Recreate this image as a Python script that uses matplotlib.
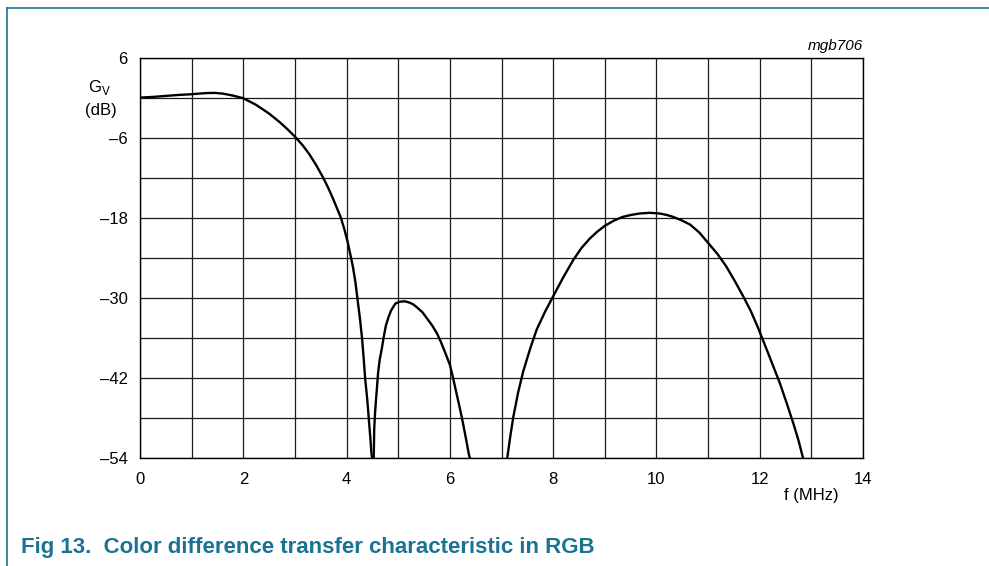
import matplotlib
matplotlib.use("Agg")
import matplotlib.pyplot as plt
from matplotlib.lines import Line2D
from matplotlib.ticker import MultipleLocator, FixedLocator

plt.rcParams["font.family"] = ["Liberation Sans", "DejaVu Sans"]

# main lobe (MHz, dB)
lobe1_f = [0.0, 0.25, 0.5, 0.75, 1.0, 1.15, 1.3, 1.45, 1.6, 1.8, 2.0, 2.25, 2.5, 2.7,
           2.85, 3.0, 3.15, 3.28, 3.41, 3.54, 3.64, 3.73, 3.81, 3.89, 3.96, 4.02, 4.07,
           4.12, 4.17, 4.21, 4.26, 4.30, 4.33, 4.36, 4.40, 4.43, 4.46, 4.48, 4.495]
lobe1_db = [0.0, 0.1, 0.25, 0.4, 0.5, 0.6, 0.68, 0.7, 0.6, 0.3, -0.1, -1.1, -2.4, -3.65,
            -4.7, -5.85, -7.15, -8.5, -10.1, -11.9, -13.45, -15.0, -16.5, -18.0, -19.8,
            -21.6, -23.4, -25.25, -27.6, -30.1, -33.2, -36.1, -39.0, -42.1, -45.2, -48.1,
            -51.0, -53.2, -54.0]
# second lobe
lobe2_f = [4.525, 4.535, 4.55, 4.57, 4.61, 4.64, 4.68, 4.72, 4.76, 4.81, 4.86, 4.91,
           4.95, 5.04, 5.13, 5.2, 5.28, 5.37, 5.47, 5.56, 5.66, 5.75, 5.83, 5.92, 6.0,
           6.06, 6.12, 6.19, 6.25, 6.31, 6.37, 6.39]
lobe2_db = [-54.0, -49.6, -47.3, -45.2, -41.2, -39.3, -37.65, -35.8, -34.15, -32.9,
            -31.9, -31.25, -30.8, -30.55, -30.5, -30.65, -30.9, -31.45, -32.15, -33.1,
            -34.15, -35.3, -36.65, -38.4, -40.0, -41.9, -44.0, -46.4, -48.6, -51.0,
            -53.5, -54.0]
# third lobe
lobe3_f = [7.11, 7.17, 7.23, 7.32, 7.42, 7.55, 7.68, 7.84, 8.0, 8.2, 8.39, 8.55, 8.71,
           8.85, 9.0, 9.18, 9.35, 9.52, 9.68, 9.87, 10.06, 10.19, 10.32, 10.48, 10.65,
           10.83, 11.0, 11.18, 11.35, 11.52, 11.68, 11.83, 11.97, 12.18, 12.39, 12.52,
           12.65, 12.75, 12.84]
lobe3_db = [-54.0, -50.7, -47.75, -44.2, -41.0, -37.7, -34.75, -32.1, -29.75, -26.85,
            -24.3, -22.5, -21.1, -20.1, -19.2, -18.4, -17.85, -17.55, -17.35, -17.25,
            -17.35, -17.55, -17.85, -18.35, -19.0, -20.2, -21.75, -23.4, -25.25, -27.5,
            -29.75, -32.0, -34.5, -38.6, -42.75, -45.7, -48.75, -51.3, -54.0]

x_ticks = [0, 2, 4, 6, 8, 10, 12, 14]
y_ticks = [-54, -42, -30, -18, -6, 6]

TEAL = "#1b7393"

fig = plt.figure(figsize=(9.89, 5.66), dpi=100)
ax = fig.add_axes([0.1416, 0.1903, 0.7310, 0.7081])

for f, db in [(lobe1_f, lobe1_db), (lobe2_f, lobe2_db), (lobe3_f, lobe3_db)]:
    ax.plot(f, db, color="black", linewidth=1.7, solid_joinstyle="round", zorder=3)

ax.set_xlim(0, 14)
ax.set_ylim(-54, 6)
ax.xaxis.set_major_locator(FixedLocator(x_ticks))
ax.yaxis.set_major_locator(FixedLocator(y_ticks))
ax.xaxis.set_minor_locator(MultipleLocator(1))
ax.yaxis.set_minor_locator(MultipleLocator(6))
ax.set_xticklabels([str(v) for v in x_ticks])
ax.set_yticklabels([str(v).replace("-", "\u2013") for v in y_ticks])
ax.tick_params(which="both", length=0, labelsize=12)
ax.tick_params(axis="x", pad=10)
ax.tick_params(axis="y", pad=9)
ax.grid(True, which="both", color="#1a1a1a", linewidth=0.9)
ax.set_axisbelow(True)
for s in ax.spines.values():
    s.set_linewidth(1.0)

ax.text(-0.056, 0.925, r"G$_\mathregular{V}$", transform=ax.transAxes, ha="center",
        va="center", fontsize=12)
ax.text(-0.054, 0.868, "(dB)", transform=ax.transAxes, ha="center", va="center",
        fontsize=12)
ax.text(0.928, -0.093, "f (MHz)", transform=ax.transAxes, ha="center", va="center",
        fontsize=12)
ax.text(1.0, 1.01, "mgb706", transform=ax.transAxes, ha="right", va="bottom",
        fontsize=11, style="italic")

# frame lines and caption
fig.add_artist(Line2D([7 / 989, 1.0], [1 - 8 / 566, 1 - 8 / 566], color=TEAL, linewidth=1.2))
fig.add_artist(Line2D([7 / 989, 7 / 989], [0, 1 - 8 / 566], color=TEAL, linewidth=1.2))
fig.text(21 / 989, 1 - 553 / 566, "Fig 13.  Color difference transfer characteristic in RGB",
         color=TEAL, fontsize=16, fontweight="bold", ha="left", va="baseline")

fig.savefig("out.png", dpi=100)
